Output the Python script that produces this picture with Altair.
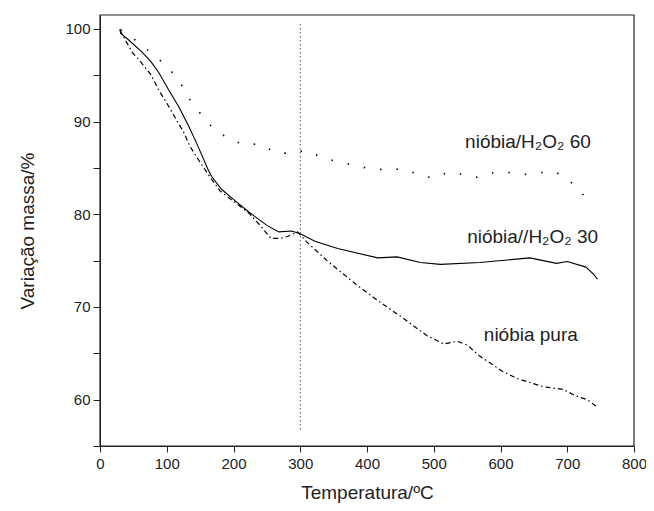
import altair as alt
import pandas as pd

# nióbia pura (dash-dot)
pura_t = [30, 31, 48, 58, 76, 88, 100, 112, 125, 135, 150, 165, 180, 200, 222, 240, 256, 270, 281, 296, 310, 340, 386, 420, 450, 490, 515, 535, 550, 569, 602, 624, 664, 694, 713, 730, 745]
pura_v = [99.9, 99.7, 97.5, 96.7, 95.1, 93.4, 92.0, 90.5, 88.9, 87.3, 85.6, 84.0, 82.5, 81.4, 80.2, 78.8, 77.4, 77.4, 77.6, 78.1, 77.0, 75.0, 72.3, 70.5, 69.0, 66.9, 66.0, 66.3, 65.9, 64.7, 63.1, 62.3, 61.4, 61.1, 60.4, 60.0, 59.2]

# nióbia/H2O2 30 (solid)
h30_t = [30, 31, 43, 63, 76, 88, 103, 118, 133, 147, 162, 167, 182, 200, 222, 250, 268, 287, 300, 322, 356, 416, 445, 480, 510, 569, 644, 684, 700, 728, 740, 745]
h30_v = [100.0, 99.5, 98.8, 97.5, 96.5, 95.3, 93.4, 91.6, 89.5, 87.3, 84.8, 84.1, 82.7, 81.6, 80.3, 78.8, 78.1, 78.2, 77.9, 77.1, 76.3, 75.3, 75.4, 74.8, 74.6, 74.8, 75.3, 74.7, 74.9, 74.3, 73.5, 73.0]

# nióbia/H2O2 60 (sparse dots)
h60_t = [31, 53, 77, 100, 119, 131, 149, 168, 191, 216, 240, 264, 286, 309, 333, 355, 380, 405, 430, 455, 480, 500, 520, 545, 565, 590, 612, 636, 660, 682, 705, 728, 740]
h60_v = [99.9, 98.8, 97.4, 96.0, 94.4, 92.7, 91.0, 89.4, 88.2, 87.5, 87.6, 86.6, 86.6, 86.9, 86.1, 85.7, 85.3, 84.9, 84.8, 84.9, 84.2, 83.9, 84.5, 84.3, 84.0, 84.5, 84.5, 84.3, 84.5, 84.6, 83.5, 81.8, 81.6]

# labels
label_text = ["nióbia/H\u2082O\u2082 60", "nióbia//H\u2082O\u2082 30", "nióbia pura"]
label_x = [547, 550, 575]
label_y = [87.8, 77.5, 67.0]

vline_x = [300]
vline_top = [100.5]
vline_bottom = [56.5]

# plot frame (axis domain limits)
x_domain = [0, 800]
y_domain = [55, 101.5]

FONT = "Liberation Sans"
INK = "#222"
xscale = alt.Scale(domain=x_domain, nice=False, zero=False)
yscale = alt.Scale(domain=y_domain, nice=False, zero=False)

xaxis = alt.Axis(title="Temperatura/ºC", values=list(range(0, 801, 100)), grid=False,
                 tickSize=6, labelFontSize=15, titleFontSize=19, titleFontWeight="normal",
                 labelFont=FONT, titleFont=FONT, domainColor=INK, tickColor=INK,
                 labelColor=INK, titleColor=INK, labelPadding=4, titlePadding=12,
                 labelFlush=False)
yaxis = alt.Axis(title="Variação massa/%", values=list(range(55, 101, 5)), grid=False,
                 labelExpr="datum.value % 10 == 0 ? datum.label : ''",
                 tickSize=7, labelFontSize=15, titleFontSize=19, titleFontWeight="normal",
                 labelFont=FONT, titleFont=FONT, domainColor=INK, tickColor=INK,
                 labelColor=INK, titleColor=INK, labelPadding=3, titlePadding=27,
                 labelFlush=False)

X = lambda f: alt.X(f, scale=xscale, axis=xaxis)
Y = lambda f: alt.Y(f, scale=yscale, axis=yaxis)

def series(t, v, dash, width=1.1):
    df = pd.DataFrame({"t": t, "v": v})
    kw = dict(color="black", strokeWidth=width, clip=True)
    if dash:
        kw["strokeDash"] = dash
    return alt.Chart(df).mark_line(**kw).encode(x=X("t:Q"), y=Y("v:Q"))

pura = series(pura_t, pura_v, [5, 3, 1.5, 3], 1.2)
h30 = series(h30_t, h30_v, None, 1.1)
h60 = series(h60_t, h60_v, [1.5, 15], 1.6)

vdf = pd.DataFrame({"x": vline_x, "y": vline_top, "y2": vline_bottom})
vline = alt.Chart(vdf).mark_rule(color="black", strokeWidth=1, strokeDash=[1, 3]).encode(
    x=X("x:Q"), y=Y("y:Q"), y2="y2:Q")

fdf = pd.DataFrame({"x": [x_domain[0]], "x2": [x_domain[1]],
                    "y": [y_domain[0]], "y2": [y_domain[1]]})
frame = alt.Chart(fdf).mark_rect(fill=None, fillOpacity=0, stroke=INK, strokeWidth=1.2).encode(
    x=X("x:Q"), x2="x2:Q", y=Y("y:Q"), y2="y2:Q")

ldf = pd.DataFrame({"text": label_text, "x": label_x, "y": label_y})
labels = alt.Chart(ldf).mark_text(align="left", baseline="middle", fontSize=19,
                                  font=FONT, color=INK).encode(
    x=X("x:Q"), y=Y("y:Q"), text="text:N")

chart = alt.layer(frame, h60, h30, pura, vline, labels).properties(
    width=534, height=431,
    background="white",
    autosize=alt.AutoSizeParams(type="none"),
    padding={"left": 92, "top": 7, "right": 12, "bottom": 57},
).configure_view(stroke=None)

chart.save("out.html", embed_options={"renderer": "svg", "actions": False})
